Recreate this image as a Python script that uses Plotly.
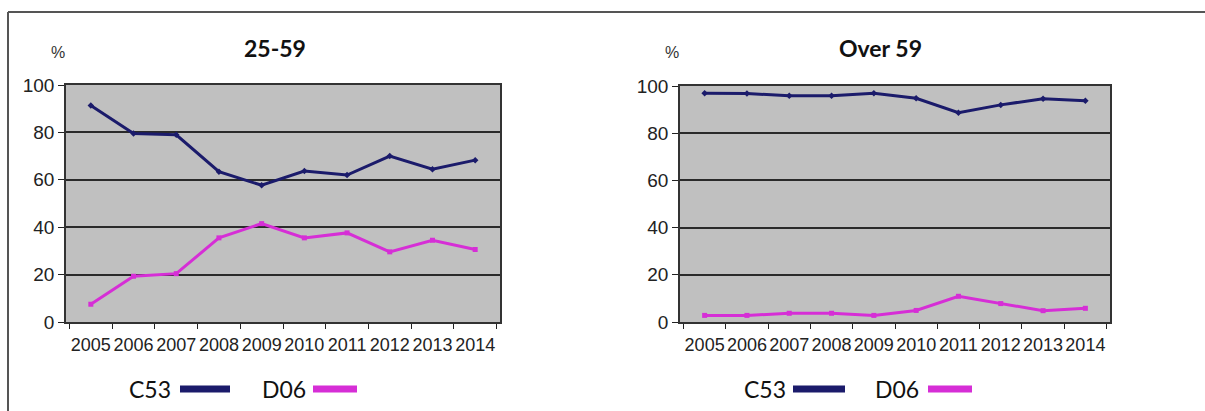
import plotly.graph_objects as go

years = ["2005", "2006", "2007", "2008", "2009", "2010", "2011", "2012", "2013", "2014"]
c53_25_59 = [91.4, 79.5, 79.0, 63.4, 57.7, 63.7, 62.0, 70.0, 64.5, 68.3]
d06_25_59 = [7.5, 19.3, 20.4, 35.5, 41.5, 35.5, 37.6, 29.6, 34.5, 30.6]
c53_over59 = [96.9, 96.8, 95.9, 95.9, 96.9, 94.8, 88.7, 92.0, 94.6, 93.8]
d06_over59 = [2.8, 2.8, 3.7, 3.7, 2.8, 4.9, 10.9, 7.8, 4.8, 5.8]
titles = ["25-59", "Over 59"]
series_names = ["C53", "D06"]

NAVY = "#1b1b6b"
MAG = "#d62ed6"
W, H = 1205, 411

fig = go.Figure()

panels = [(c53_25_59, d06_25_59, "x", "y"), (c53_over59, d06_over59, "x2", "y2")]
for c53, d06, xa, ya in panels:
    fig.add_trace(go.Scatter(x=years, y=c53, mode="lines+markers", xaxis=xa, yaxis=ya,
                             line=dict(color=NAVY, width=3),
                             marker=dict(symbol="diamond", size=5, color=NAVY),
                             showlegend=False, name="C53"))
    fig.add_trace(go.Scatter(x=years, y=d06, mode="lines+markers", xaxis=xa, yaxis=ya,
                             line=dict(color=MAG, width=3),
                             marker=dict(symbol="square", size=5, color=MAG),
                             showlegend=False, name="D06"))

def px_x(v):
    return v / W

def px_y(v):
    return 1 - v / H

xcommon = dict(type="category", tickson="boundaries", ticks="outside", ticklen=5,
               tickcolor="#222", showline=True, linecolor="#333", linewidth=1.5,
               mirror=True, showgrid=False, tickangle=0, automargin=False,
               ticklabelstandoff=6,
               tickfont=dict(family="Liberation Sans", size=18, color="#222"))
ycommon = dict(range=[0, 100], tickvals=[0, 20, 40, 60, 80, 100], ticks="outside",
               ticklen=6, tickcolor="#222", showline=True, linecolor="#333", linewidth=1.5,
               mirror=True, showgrid=True, gridcolor="#2a2a2a", gridwidth=1.5,
               zeroline=False, fixedrange=True, automargin=False,
               tickfont=dict(family="Liberation Sans", size=19, color="#222"))

fig.update_layout(
    width=W, height=H,
    margin=dict(l=0, r=0, t=0, b=0),
    paper_bgcolor="white",
    plot_bgcolor="#c0c0c0",
    xaxis=dict(domain=[px_x(66), px_x(500)], anchor="y", **xcommon),
    yaxis=dict(domain=[px_y(322), px_y(85)], anchor="x", **ycommon),
    xaxis2=dict(domain=[px_x(680), px_x(1110)], anchor="y2", **xcommon),
    yaxis2=dict(domain=[px_y(322), px_y(86)], anchor="x2", **ycommon),
)

annotations = []
shapes = []
# titles and % labels
for title, cx, pcx in [(titles[0], 275, 58), (titles[1], 880, 672)]:
    annotations.append(dict(text="<b>%s</b>" % title, x=px_x(cx), y=px_y(48), xref="paper", yref="paper",
                            xanchor="center", yanchor="middle", showarrow=False,
                            font=dict(family="Lato", size=23, color="#111")))
    annotations.append(dict(text="%", x=px_x(pcx), y=px_y(53), xref="paper", yref="paper",
                            xanchor="center", yanchor="middle", showarrow=False,
                            font=dict(family="Liberation Sans", size=16, color="#333")))

# legends (text followed by line sample)
legend_layout = [
    [(150, 180, 230, NAVY), (284, 313, 357, MAG)],
    [(765, 793, 845, NAVY), (897, 928, 972, MAG)],
]
for items in legend_layout:
    for name, (tc, l0, l1, col) in zip(series_names, items):
        annotations.append(dict(text=name, x=px_x(tc), y=px_y(389), xref="paper", yref="paper",
                                xanchor="center", yanchor="middle", showarrow=False,
                                font=dict(family="Lato", size=23, color="#111")))
        shapes.append(dict(type="line", xref="paper", yref="paper",
                           x0=px_x(l0), x1=px_x(l1), y0=px_y(389), y1=px_y(389),
                           line=dict(color=col, width=7)))

# outer frame (top and left)
shapes.append(dict(type="line", xref="paper", yref="paper", x0=px_x(8), x1=1, y0=px_y(12), y1=px_y(12),
                   line=dict(color="#555", width=2)))
shapes.append(dict(type="line", xref="paper", yref="paper", x0=px_x(8), x1=px_x(8), y0=px_y(12), y1=0,
                   line=dict(color="#555", width=2)))

fig.update_layout(annotations=annotations, shapes=shapes)
fig.write_html("out.html")
